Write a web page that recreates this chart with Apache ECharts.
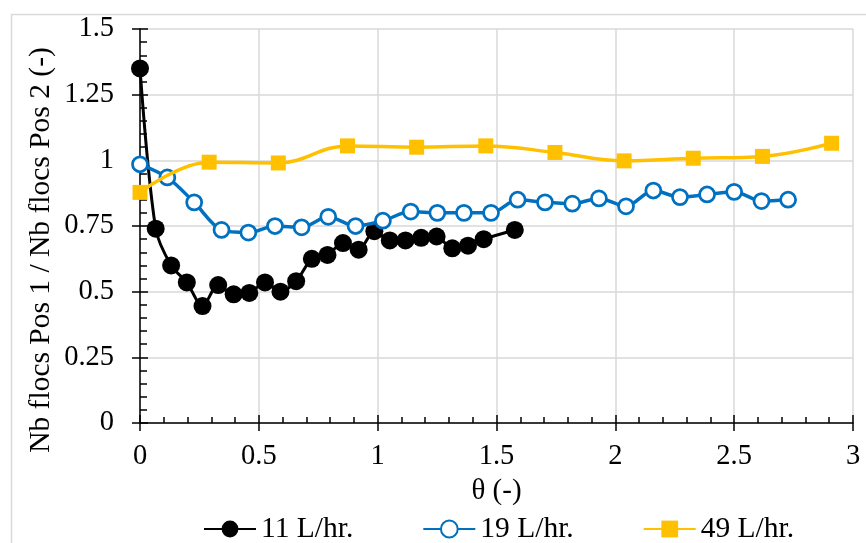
<!DOCTYPE html>
<html>
<head>
<meta charset="utf-8">
<script src="https://cdn.jsdelivr.net/npm/echarts@6/dist/echarts.min.js"></script>
<style>
html,body{margin:0;padding:0;background:#fff;}
#chart{width:866px;height:543px;}
</style>
</head>
<body>
<div id="chart"></div>
<script>
var seriesNames = ['11 L/hr.', '19 L/hr.', '49 L/hr.'];
var theta11 = [0, 0.066, 0.131, 0.197, 0.263, 0.329, 0.394, 0.46, 0.526, 0.591, 0.657, 0.723, 0.789, 0.854, 0.92, 0.986, 1.051, 1.117, 1.183, 1.248, 1.314, 1.38, 1.446, 1.577];
var ratio11 = [1.35, 0.74, 0.60, 0.535, 0.445, 0.525, 0.49, 0.495, 0.535, 0.50, 0.54, 0.625, 0.64, 0.685, 0.66, 0.73, 0.695, 0.695, 0.705, 0.71, 0.665, 0.675, 0.70, 0.735];
var theta19 = [0, 0.115, 0.228, 0.343, 0.456, 0.568, 0.68, 0.792, 0.907, 1.022, 1.139, 1.251, 1.363, 1.477, 1.589, 1.704, 1.819, 1.931, 2.045, 2.16, 2.272, 2.386, 2.5, 2.615, 2.727];
var ratio19 = [0.985, 0.935, 0.84, 0.735, 0.725, 0.75, 0.745, 0.785, 0.75, 0.77, 0.805, 0.80, 0.80, 0.80, 0.85, 0.84, 0.835, 0.855, 0.825, 0.885, 0.86, 0.87, 0.88, 0.845, 0.85];
var theta49 = [0, 0.291, 0.582, 0.873, 1.164, 1.455, 1.746, 2.037, 2.328, 2.619, 2.91];
var ratio49 = [0.878, 0.993, 0.99, 1.055, 1.05, 1.055, 1.03, 0.998, 1.008, 1.015, 1.065];
var xTickLabels = ['0', '0.5', '1', '1.5', '2', '2.5', '3'];
var yTickLabels = ['0', '0.25', '0.5', '0.75', '1', '1.25', '1.5'];
var xTitle = 'θ (-)';
var yTitle = 'Nb flocs Pos 1 / Nb flocs Pos 2 (-)';

function pairs(xs, ys) { return xs.map(function (x, i) { return [x, ys[i]]; }); }

var FONT = "'Liberation Serif', 'Times New Roman', serif";
var chart = echarts.init(document.getElementById('chart'), null, { renderer: 'canvas' });

var baseX = { type: 'value', min: 0, max: 3, interval: 0.5 };
var baseY = { type: 'value', min: 0, max: 1.5, interval: 0.25 };

chart.setOption({
  backgroundColor: '#fff',
  animation: false,
  textStyle: { fontFamily: FONT },
  graphic: [{
    type: 'rect', left: 9, top: 12, silent: true,
    shape: { x: 0, y: 0, width: 900, height: 600 },
    style: { fill: 'none', stroke: '#d9d9d9', lineWidth: 1.5 }
  }, {
    type: 'text', x: 41.5, y: 250, rotation: Math.PI / 2, silent: true,
    style: {
      text: yTitle, fill: '#000', fontSize: 29.5, fontFamily: FONT,
      align: 'center', verticalAlign: 'middle'
    }
  }],
  grid: { left: 140, right: 13, top: 29, bottom: 120, outerBoundsMode: 'none' },
  xAxis: [
    Object.assign({}, baseX, {
      name: xTitle, nameLocation: 'middle', nameGap: 54,
      nameTextStyle: { fontSize: 29, color: '#000', fontFamily: FONT },
      axisLine: { onZero: false, lineStyle: { color: '#000', width: 1.5 } },
      axisTick: { show: true, inside: true, length: 8, lineStyle: { color: '#000', width: 1.5 } },
      minorTick: { show: true, splitNumber: 5, length: 6, lineStyle: { color: '#000', width: 1.5 } },
      splitLine: { show: true, lineStyle: { color: '#d9d9d9', width: 1.5 } },
      axisLabel: {
        fontSize: 28.5, color: '#000', margin: 19, fontFamily: FONT,
        formatter: function (v) { return xTickLabels[Math.round(v / 0.5)]; }
      }
    }),
    Object.assign({}, baseX, {
      position: 'bottom',
      axisLine: { show: false, onZero: false },
      axisTick: { show: true, inside: false, length: 8, lineStyle: { color: '#000', width: 1.5 } },
      axisLabel: { show: false },
      splitLine: { show: false }
    })
  ],
  yAxis: [
    Object.assign({}, baseY, {
      axisLine: { show: true, onZero: false, lineStyle: { color: '#000', width: 1.5 } },
      axisTick: { show: true, inside: true, length: 8, lineStyle: { color: '#000', width: 1.5 } },
      minorTick: { show: true, splitNumber: 5, length: 7, lineStyle: { color: '#000', width: 1.5 } },
      splitLine: { show: true, lineStyle: { color: '#d9d9d9', width: 1.5 } },
      axisLabel: {
        fontSize: 28.5, color: '#000', margin: 26, fontFamily: FONT,
        formatter: function (v) { return yTickLabels[Math.round(v / 0.25)]; }
      }
    }),
    Object.assign({}, baseY, {
      position: 'left',
      axisLine: { show: false, onZero: false },
      axisTick: { show: true, inside: false, length: 8, lineStyle: { color: '#000', width: 1.5 } },
      axisLabel: { show: false },
      splitLine: { show: false }
    })
  ],
  legend: {
    data: seriesNames,
    left: 198, top: 509,
    itemWidth: 52, itemHeight: 21, itemGap: 69,
    textStyle: { fontSize: 29.5, color: '#000', fontFamily: FONT }
  },
  series: [
    {
      name: seriesNames[0], type: 'line', xAxisIndex: 0, yAxisIndex: 0,
      data: pairs(theta11, ratio11), smooth: 0.3,
      symbol: 'circle', symbolSize: 18,
      lineStyle: { color: '#000', width: 3 },
      itemStyle: { color: '#000', borderColor: '#000', borderWidth: 0 },
      z: 2
    },
    {
      name: seriesNames[1], type: 'line', xAxisIndex: 0, yAxisIndex: 0,
      data: pairs(theta19, ratio19), smooth: 0.3,
      symbol: 'circle', symbolSize: 15,
      lineStyle: { color: '#0070C0', width: 3.5 },
      itemStyle: { color: '#ffffff', borderColor: '#0070C0', borderWidth: 2.75 },
      z: 3
    },
    {
      name: seriesNames[2], type: 'line', xAxisIndex: 0, yAxisIndex: 0,
      data: pairs(theta49, ratio49), smooth: 0.4,
      symbol: 'rect', symbolSize: 15,
      lineStyle: { color: '#FFC000', width: 3.5 },
      itemStyle: { color: '#FFC000', borderColor: '#FFC000', borderWidth: 0 },
      z: 4
    }
  ]
});
</script>
</body>
</html>
